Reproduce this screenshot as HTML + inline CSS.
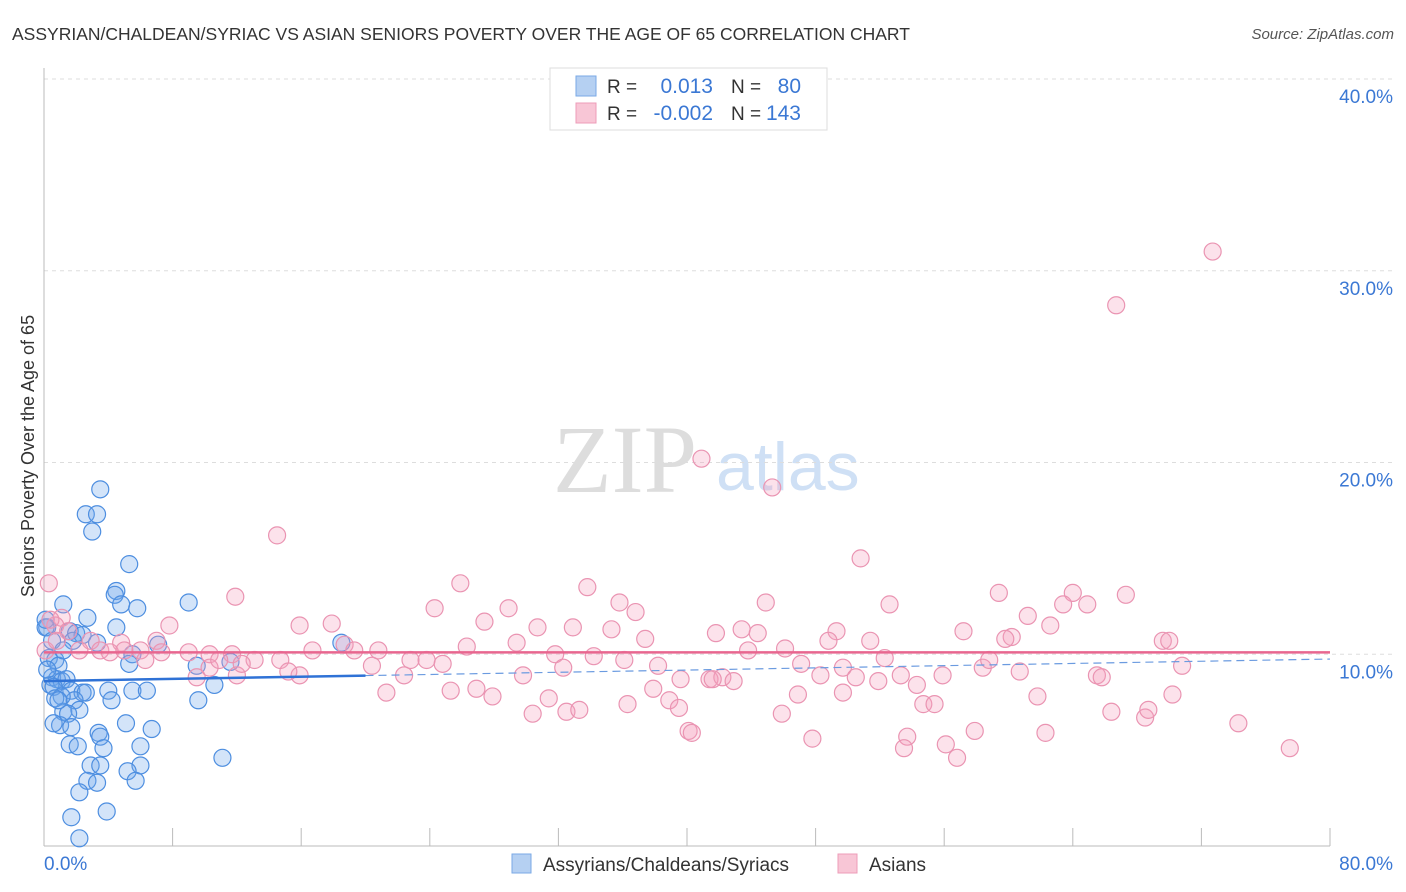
<!DOCTYPE html>
<html><head><meta charset="utf-8"><style>
body{margin:0;background:#fff;}
svg{display:block;font-family:"Liberation Sans",sans-serif;}
</style></head><body>
<svg id="chart" width="1406" height="892">
<text x="12" y="40" font-size="17.5" fill="#333">ASSYRIAN/CHALDEAN/SYRIAC VS ASIAN SENIORS POVERTY OVER THE AGE OF 65 CORRELATION CHART</text>
<text x="1394" y="39" font-size="15" fill="#555" font-style="italic" text-anchor="end">Source: ZipAtlas.com</text>
<text transform="translate(34,456) rotate(-90)" font-size="18" fill="#333" text-anchor="middle">Seniors Poverty Over the Age of 65</text>
<g>
<text x="553" y="492" font-size="96" fill="#ddd" font-family="Liberation Serif,serif">ZIP</text>
<text x="716" y="490" font-size="68" fill="#cfe0f5">atlas</text>
</g>
<g id="grid"></g>
<g id="axes"></g>
<g id="blue"></g>
<g id="pink"></g>
<g id="trends"></g>
<g>
<rect x="550" y="68" width="277" height="62" fill="#fff" stroke="#ddd"/>
<rect x="576" y="76" width="20" height="20" fill="#b5d0f2" stroke="#7aa9e6"/>
<rect x="576" y="103" width="20" height="20" fill="#f8c6d6" stroke="#ee9cb8"/>
<text x="607" y="93" font-size="19" fill="#333">R =</text>
<text x="713" y="93" font-size="21" fill="#3b78d4" text-anchor="end">0.013</text>
<text x="731" y="93" font-size="19" fill="#333">N =</text>
<text x="801" y="93" font-size="21" fill="#3b78d4" text-anchor="end">80</text>
<text x="607" y="120" font-size="19" fill="#333">R =</text>
<text x="713" y="120" font-size="21" fill="#3b78d4" text-anchor="end">-0.002</text>
<text x="731" y="120" font-size="19" fill="#333">N =</text>
<text x="801" y="120" font-size="21" fill="#3b78d4" text-anchor="end">143</text>
</g>
<g>
<rect x="512" y="854" width="19" height="19" fill="#b5d0f2" stroke="#7aa9e6"/>
<text x="543" y="871" font-size="19" fill="#333">Assyrians/Chaldeans/Syriacs</text>
<rect x="838" y="854" width="19" height="19" fill="#f8c6d6" stroke="#ee9cb8"/>
<text x="869" y="871" font-size="19" fill="#333">Asians</text>
</g>
</svg>
<script>
const yTicks=[10,20,30,40];
const yTickLabels=["10.0%","20.0%","30.0%","40.0%"];
const xTickCount=10;
const xMax=80,yMax=40;
const blueX=[3.5,2.6,3.3,3.0,5.3,4.5,4.4,4.8,5.8,9.0,1.2,2.7,0.2,4.5,1.6,2.0,2.4,1.8,3.3,7.1,18.5,0.3,0.7,0.9,5.5,5.3,9.5,11.6,0.5,0.8,1.1,1.4,0.4,0.6,4.0,5.5,6.4,10.6,1.7,2.4,2.6,1.9,1.1,4.2,9.6,1.2,2.2,1.5,1.0,1.7,5.1,6.7,0.6,1.6,3.4,3.5,2.1,3.7,6.0,2.9,3.5,6.0,5.2,5.7,2.7,3.3,2.2,3.9,1.7,2.2,11.1,0.1,0.1,0.5,0.7,0.2,1.2,0.9];
const blueY=[18.6,17.3,17.3,16.4,14.7,13.3,13.1,12.6,12.4,12.7,12.6,11.9,11.4,11.4,11.2,11.1,11.0,10.7,10.6,10.5,10.6,9.8,9.7,9.4,10.0,9.5,9.4,9.6,8.8,8.7,8.6,8.7,8.4,8.3,8.1,8.1,8.1,8.4,8.1,8.0,8.0,7.6,7.8,7.6,7.6,7.0,7.1,6.9,6.3,6.2,6.4,6.1,6.4,5.3,5.9,5.7,5.2,5.1,5.2,4.2,4.2,4.2,3.9,3.4,3.4,3.3,2.8,1.8,1.5,0.4,4.6,11.4,11.8,10.7,7.7,9.2,10.2,7.6];
const pinkX=[72.7,66.7,40.9,45.3,14.5,50.8,0.3,25.9,11.9,33.8,59.4,64.0,67.3,52.6,44.9,28.9,24.3,35.8,36.8,61.2,63.4,64.9,7.8,15.9,17.9,27.4,30.7,32.9,35.3,62.6,69.6,70.0,57.2,60.2,59.8,49.3,43.4,44.4,41.8,37.4,7.0,4.8,1.1,0.7,1.5,2.9,3.5,4.1,2.2,6.0,7.3,9.0,10.3,11.7,13.1,14.7,16.7,18.7,19.3,20.8,22.8,23.8,24.8,26.3,29.4,31.8,34.2,38.2,46.1,48.8,51.4,52.3,43.8,47.1,48.3,49.7,50.5,51.9,53.3,55.9,58.4,60.7,65.5,65.8,70.8,58.8,54.3,29.8,32.3,36.1,39.6,41.4,42.2,42.9,9.5,12.0,10.3,15.9,15.2,20.4,22.4,21.3,25.3,26.9,27.9,31.4,30.4,32.5,33.3,36.3,37.9,38.9,39.5,41.6,46.9,49.7,45.9,54.7,55.4,53.7,53.5,56.1,56.8,57.9,61.8,62.3,66.4,68.5,68.7,70.2,74.3,77.5,40.1,40.3,47.8,12.3,10.9,5.0,6.3,0.1,0.4,0.8];
const pinkY=[31.0,28.2,20.2,18.7,16.2,15.0,13.7,13.7,13.0,13.5,13.2,13.2,13.1,12.6,12.7,12.4,12.4,12.7,12.2,12.0,12.6,12.6,11.5,11.5,11.6,11.7,11.4,11.4,11.3,11.5,10.7,10.7,11.2,10.9,10.8,11.2,11.3,11.1,11.1,10.8,10.7,10.6,11.9,11.5,11.2,10.7,10.2,10.1,10.2,10.2,10.1,10.1,10.0,10.0,9.7,9.7,10.2,10.5,10.2,10.2,9.7,9.7,9.5,10.4,10.6,10.0,9.9,9.4,10.3,10.7,10.7,9.8,10.2,9.5,8.9,9.3,8.8,8.6,8.9,8.9,9.3,9.1,8.9,8.8,9.4,9.7,8.4,8.9,9.3,9.7,8.7,8.7,8.8,8.6,8.8,8.9,9.3,8.9,9.1,9.4,8.9,8.0,8.1,8.2,7.8,7.7,6.9,7.0,7.1,7.4,8.2,7.6,7.2,8.7,7.9,8.0,6.9,7.4,7.4,5.7,5.1,5.3,4.6,6.0,7.8,5.9,7.0,6.7,7.1,7.9,6.4,5.1,6.0,5.9,5.6,9.5,9.7,10.2,9.7,10.2,11.8,10.7];
const blueTrend=[8.6,9.75];
const pinkTrend=[10.1,10.1];

const X0=44,X1=1330,Y0=846,Y40=79;
const sx=v=>X0+v/xMax*(X1-X0);
const sy=v=>Y0-v/yMax*(Y0-Y40);
const NS="http://www.w3.org/2000/svg";
function mk(tag,parent,attrs){const e=document.createElementNS(NS,tag);for(const k in attrs)e.setAttribute(k,attrs[k]);parent.appendChild(e);return e;}
const grid=document.getElementById('grid'),axes=document.getElementById('axes');
yTicks.forEach((t,i)=>{
  const l=mk('line',grid,{x1:X0,x2:1394,y1:sy(t),y2:sy(t),stroke:'#ddd','stroke-dasharray':'4,4'});
  
  
  const tx=mk('text',axes,{x:1393,y:sy(t)+24,'font-size':19,fill:'#3b78d4','text-anchor':'end'});
  tx.textContent=yTickLabels[i];
  
  
});
mk('line',axes,{x1:X0,x2:X0,y1:68,y2:Y0,stroke:'#bbb'});
mk('line',axes,{x1:X0,x2:X1,y1:Y0,y2:Y0,stroke:'#bbb'});
for(let i=1;i<=xTickCount;i++){const x=sx(i*xMax/xTickCount);
  const t=mk('line',axes,{x1:x,x2:x,y1:828,y2:Y0,stroke:'#bbb'});
  
  }
const xl0=mk('text',axes,{x:44,y:870,'font-size':19,fill:'#3b78d4'});xl0.textContent='0.0%';


const xl1=mk('text',axes,{x:1393,y:870,'font-size':19,fill:'#3b78d4','text-anchor':'end'});xl1.textContent='80.0%';


function pts(g,xs,ys,fill,stroke){xs.forEach((v,i)=>{
  const c=mk('circle',g,{cx:sx(v),cy:sy(ys[i]),r:8.5,fill:fill,stroke:stroke,'stroke-width':1.2});
  
  });}
pts(document.getElementById('blue'),blueX,blueY,'rgba(110,165,235,0.3)','#4d8ee0');
pts(document.getElementById('pink'),pinkX,pinkY,'rgba(245,160,190,0.3)','#ea94b2');
const tr=document.getElementById('trends');
const bAt=x=>blueTrend[0]+(blueTrend[1]-blueTrend[0])*x/xMax;
const pl=mk('line',tr,{x1:sx(0),x2:sx(xMax),y1:sy(pinkTrend[0]),y2:sy(pinkTrend[1]),stroke:'#e8668f','stroke-width':2.5});


const bs=mk('line',tr,{x1:sx(0),x2:sx(20),y1:sy(bAt(0)),y2:sy(bAt(20)),stroke:'#2f72d6','stroke-width':2.5});


const bd=mk('line',tr,{x1:sx(20),x2:sx(xMax),y1:sy(bAt(20)),y2:sy(bAt(xMax)),stroke:'#6b9be0','stroke-width':1.2,'stroke-dasharray':'8,5'});


</script>
</body></html>
